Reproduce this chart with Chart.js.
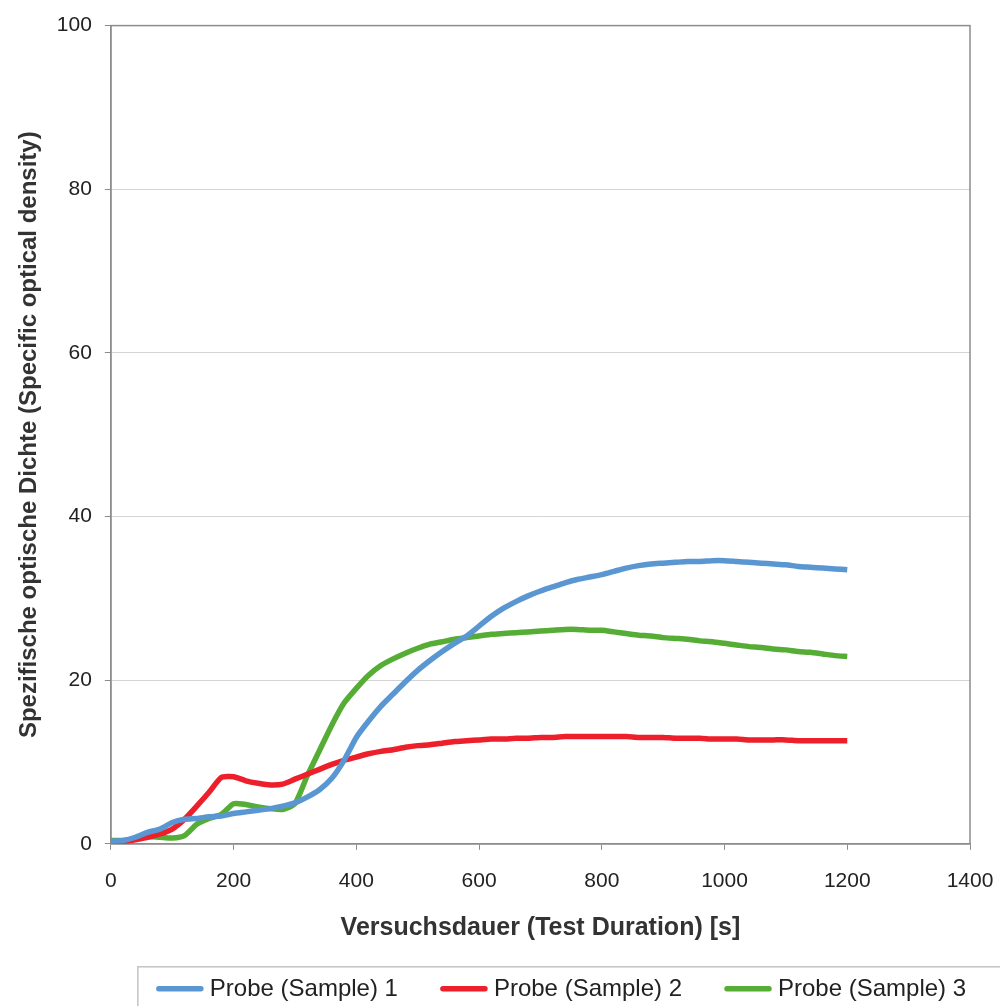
<!DOCTYPE html>
<html><head><meta charset="utf-8">
<script src="https://cdn.jsdelivr.net/npm/chart.js@4.4.1/dist/chart.umd.min.js"></script>
<style>html,body{margin:0;padding:0;background:#fff}#wrap{width:1000px;height:1006px;position:relative}</style>
</head><body><div id="wrap"><canvas id="c" width="1000" height="1006"></canvas></div>
<script>
const times = [0,20,40,60,80,100,120,140,160,180,200,220,240,260,280,300,320,340,360,380,400,420,440,460,480,500,520,540,560,580,600,620,640,660,680,700,720,740,760,780,800,820,840,860,880,900,920,940,960,980,1000,1020,1040,1060,1080,1100,1120,1140,1160,1180,1200];
const sample1 = [0.3,0.4,0.8,1.4,1.8,2.6,3.0,3.1,3.3,3.4,3.7,3.9,4.1,4.3,4.6,5.0,5.7,6.6,8.0,10.2,13.0,15.0,16.8,18.3,19.8,21.2,22.4,23.5,24.5,25.4,26.6,27.8,28.8,29.6,30.3,30.9,31.4,31.9,32.3,32.6,32.9,33.3,33.7,34.0,34.2,34.3,34.4,34.5,34.5,34.6,34.6,34.5,34.4,34.3,34.2,34.1,33.9,33.8,33.7,33.6,33.5];
const sample2 = [0.2,0.3,0.5,0.8,1.2,1.8,3.0,4.6,6.3,8.1,8.2,7.7,7.4,7.2,7.3,7.9,8.5,9.1,9.7,10.2,10.6,11.0,11.3,11.5,11.8,12.0,12.1,12.3,12.5,12.6,12.7,12.8,12.8,12.9,12.9,13.0,13.0,13.1,13.1,13.1,13.1,13.1,13.1,13.0,13.0,13.0,12.9,12.9,12.9,12.8,12.8,12.8,12.7,12.7,12.7,12.7,12.6,12.6,12.6,12.6,12.6];
const sample3 = [0.4,0.4,0.6,0.9,0.8,0.7,1.0,2.4,3.1,3.6,4.9,4.8,4.5,4.3,4.2,4.9,8.3,11.4,14.5,17.2,19.0,20.6,21.8,22.6,23.3,23.9,24.4,24.7,25.0,25.2,25.4,25.6,25.7,25.8,25.9,26.0,26.1,26.2,26.2,26.1,26.1,25.9,25.7,25.5,25.4,25.2,25.1,25.0,24.8,24.7,24.5,24.3,24.1,24.0,23.8,23.7,23.5,23.4,23.2,23.0,22.9];
const seriesNames = ['Probe (Sample) 1','Probe (Sample) 2','Probe (Sample) 3'];
const seriesColors = ['#5a97d2','#ec1f2b','#55ad35'];
const xTitle = 'Versuchsdauer (Test Duration) [s]';
const yTitle = 'Spezifische optische Dichte (Specific optical density)';

const FONT = '"Liberation Sans", Arial, sans-serif';
const allSeries = [sample1, sample2, sample3];
const datasets = allSeries.map((vals, i) => ({
  label: seriesNames[i],
  data: times.map((t, k) => ({x: t, y: vals[k]})),
  borderColor: seriesColors[i],
  backgroundColor: seriesColors[i],
  borderWidth: 5.5,
  pointRadius: 0,
  tension: 0.2,
  fill: false
}));

// Frame around plot area + bottom legend drawn from the datasets
const framePlugin = {
  id: 'framePlugin',
  beforeDatasetsDraw(chart) {
    const a = chart.chartArea, ctx = chart.ctx;
    ctx.save();
    ctx.strokeStyle = '#8c8c8c';
    ctx.lineWidth = 1.5;
    ctx.strokeRect(a.left, a.top, a.right - a.left, a.bottom - a.top);
    ctx.restore();
  },
  afterDraw(chart) {
    const ctx = chart.ctx, a = chart.chartArea;
    const lineLen = 48, textGap = 6, itemGap = 42;
    const cy = a.bottom + 145;
    let x = a.left + 45;
    ctx.save();
    ctx.strokeStyle = '#c4c4c4';
    ctx.lineWidth = 1.5;
    ctx.strokeRect(x - 18, cy - 22, chart.width + 40 - (x - 18), 80);
    ctx.font = '24px ' + FONT;
    ctx.textBaseline = 'middle';
    ctx.textAlign = 'left';
    chart.data.datasets.forEach((d) => {
      ctx.strokeStyle = d.borderColor;
      ctx.lineWidth = 5.5;
      ctx.lineCap = 'round';
      ctx.beginPath();
      ctx.moveTo(x + 3, cy);
      ctx.lineTo(x + lineLen - 3, cy);
      ctx.stroke();
      ctx.fillStyle = '#222';
      ctx.fillText(d.label, x + lineLen + textGap, cy + 1);
      x += lineLen + textGap + ctx.measureText(d.label).width + itemGap;
    });
    ctx.restore();
  }
};

new Chart(document.getElementById('c'), {
  type: 'line',
  data: { datasets },
  options: {
    responsive: false,
    animation: false,
    layout: { padding: { top: 14, left: 15, right: 9, bottom: 63 } },
    plugins: { tooltip: { enabled: false }, legend: { display: false } },
    scales: {
      x: {
        type: 'linear', min: 0, max: 1400,
        afterFit: (s) => { s.paddingRight = 30; },
        ticks: { stepSize: 200, font: { family: FONT, size: 21 }, color: '#222', padding: 19,
                 callback: (v) => String(v) },
        grid: { drawOnChartArea: false, drawTicks: true, tickLength: 6, tickColor: '#8c8c8c' },
        border: { color: '#8c8c8c', width: 1.5 },
        title: { display: true, text: xTitle, font: { family: FONT, size: 25, weight: 'bold' }, color: '#333', padding: { top: 0, bottom: 0 } }
      },
      y: {
        min: 0, max: 100,
        ticks: { stepSize: 20, font: { family: FONT, size: 21 }, color: '#222', padding: 13,
                 callback: (v) => String(v) },
        grid: { color: '#d4d4d4', lineWidth: 1, tickLength: 6, tickColor: '#8c8c8c' },
        border: { color: '#8c8c8c', width: 1.5 },
        title: { display: true, text: yTitle, font: { family: FONT, size: 24, weight: 'bold' }, color: '#333', padding: { top: 0, bottom: 0 } }
      }
    }
  },
  plugins: [framePlugin]
});
</script></body></html>
